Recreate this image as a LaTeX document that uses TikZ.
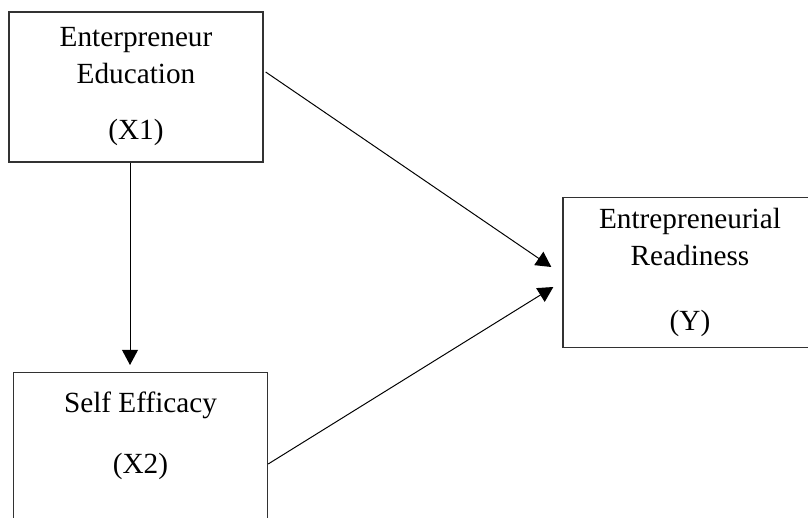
\documentclass[tikz,border=0pt]{standalone}
\usepackage{fontspec}
\setmainfont{Liberation Serif}
\usetikzlibrary{positioning,arrows.meta,calc}
\definecolor{pathLine}{RGB}{0,0,0}
\definecolor{boxLine}{RGB}{50,50,50}
\tikzset{
    base/.style={font=\fontsize{20.8pt}{26.3pt}\selectfont, align=center},
    factorBox/.style={base, rectangle, draw=boxLine, line width=0.9pt,
                     minimum width=6.35cm, minimum height=3.75cm, inner sep=0pt},
    flow/.style={-{Triangle[length=3.8mm, width=4mm]}, line width=0.7pt, color=pathLine}
}
\begin{document}
\begin{tikzpicture}[x=0.025cm, y=-0.025cm]
  \useasboundingbox (0,0) rectangle (808,518);
  \node[factorBox] (education) at (136,87) {Enterpreneur\\ Education\\[0.475cm] (X1)};
  \node[factorBox] (readiness) at (690,272.5) {Entrepreneurial\\ Readiness\\[0.7cm] (Y)};
  \node[factorBox, anchor=north, inner ysep=0.475cm, text depth=3cm] (efficacy) at (140.5,372) {Self Efficacy\\[0.6cm] (X2)};

  \coordinate (drop) at ([xshift=-0.15cm]education.south);
  \draw[flow, shorten >=0.175cm] (drop) -- (drop |- efficacy.north);
  \draw[flow] ($(education.east)+(2,-15)$) -- ($(readiness.west)+(-11,-5.5)$);
  \draw[flow] ($(efficacy.north east)+(0,92)$) -- ($(readiness.west)+(-9,14.5)$);
\end{tikzpicture}
\end{document}
